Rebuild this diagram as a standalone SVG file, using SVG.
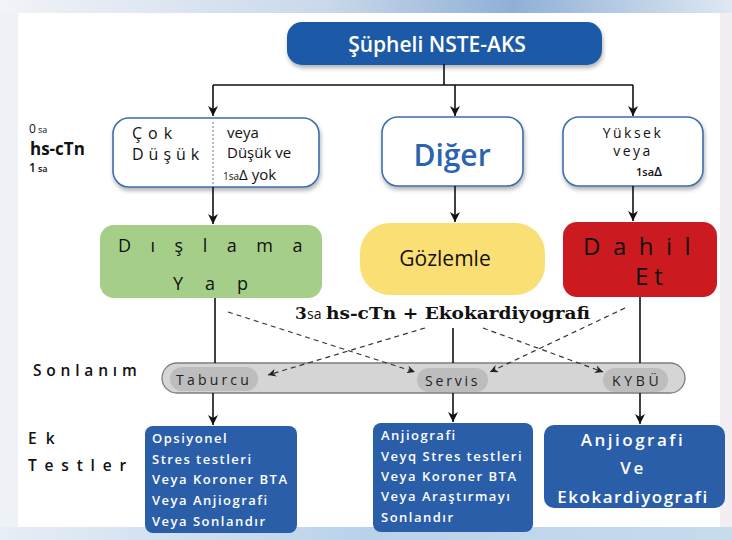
<svg xmlns="http://www.w3.org/2000/svg" width="732" height="540" viewBox="0 0 732 540">
<defs>
<linearGradient id="gTop" x1="0" y1="0" x2="1" y2="0">
<stop offset="0" stop-color="#f1f4f8"/><stop offset="0.45" stop-color="#c9d8ea"/><stop offset="0.7" stop-color="#8fb0d6"/><stop offset="1" stop-color="#dfe8f2"/>
</linearGradient>
<linearGradient id="gBot" x1="0" y1="0" x2="1" y2="0">
<stop offset="0" stop-color="#e6eef6"/><stop offset="0.5" stop-color="#b9d2ea"/><stop offset="1" stop-color="#c7dbee"/>
</linearGradient>
<filter id="sh" x="-10%" y="-10%" width="120%" height="140%">
<feDropShadow dx="1" dy="3" stdDeviation="2" flood-color="#000" flood-opacity="0.3"/>
</filter>
<marker id="ah" viewBox="0 0 10 10" refX="10" refY="5" markerWidth="10" markerHeight="10" markerUnits="userSpaceOnUse" orient="auto">
<path d="M0,0 L10,5 L0,10 L3,5 z" fill="#111"/>
</marker>
<marker id="ad" viewBox="0 0 10 10" refX="10" refY="5" markerWidth="8" markerHeight="8" markerUnits="userSpaceOnUse" orient="auto">
<path d="M0,0 L10,5 L0,10 L3,5 z" fill="#222"/>
</marker>
<style>
.ln{stroke:#111;stroke-width:1.6;fill:none}
.dl{stroke:#333;stroke-width:1.2;fill:none;stroke-dasharray:5 4}
.wb{fill:#fff;stroke:#3d6ead;stroke-width:1.6}
.bb{fill:#2a5ea9}
.sans{font-family:"Open Sans","Noto Sans","DejaVu Sans",sans-serif}
.wt{fill:#fff;font-family:"Open Sans","Noto Sans",sans-serif;font-weight:600;font-size:13px;letter-spacing:1.5px}
.lab{font-family:"Open Sans","Noto Sans",sans-serif;font-size:15.5px;fill:#111;font-weight:600}
.pt{font-family:"Open Sans","Noto Sans",sans-serif;font-size:14px;fill:#222;font-weight:500}
</style>
</defs>

<rect x="0" y="0" width="732" height="540" fill="#eef2f6"/>
<rect x="0" y="0" width="732" height="13" fill="url(#gTop)"/>
<rect x="0" y="527" width="732" height="13" fill="url(#gBot)"/>
<rect x="720" y="13" width="12" height="514" fill="#f3eef1"/>
<rect x="18" y="13" width="702" height="514" fill="#ffffff"/>

<g id="n-top">
<rect x="287" y="22" width="315" height="43" rx="15" fill="#1e5aa7" filter="url(#sh)"/>
<text x="437" y="52" text-anchor="middle" class="sans" font-size="21" font-weight="600" fill="#fff">Şüpheli NSTE-AKS</text>
</g>

<g id="n-cokdusuk">
<rect class="wb" x="113" y="118" width="206" height="69" rx="16" filter="url(#sh)"/>
<line x1="213" y1="122" x2="213" y2="186" stroke="#777" stroke-width="1" stroke-dasharray="2 2"/>
<text x="132" y="139" class="sans" font-size="16" font-weight="500" letter-spacing="6" fill="#111">Çok</text>
<text x="132" y="160" class="sans" font-size="16" font-weight="500" letter-spacing="5" fill="#111">Düşük</text>
<text x="227" y="138" class="sans" font-size="15" fill="#111">veya</text>
<text x="227" y="158" class="sans" font-size="15" fill="#111">Düşük ve</text>
<text x="223" y="180" class="sans" fill="#111"><tspan font-size="10">1sa</tspan><tspan font-size="15">Δ  yok</tspan></text>
</g>

<g id="n-diger">
<rect class="wb" x="382" y="117" width="141" height="69" rx="16" filter="url(#sh)"/>
<text x="452" y="166" text-anchor="middle" class="sans" font-size="30" font-weight="600" fill="#2b64ad">Diğer</text>
</g>

<g id="n-yuksek">
<rect class="wb" x="563" y="117" width="140" height="69" rx="16" filter="url(#sh)"/>
<text x="633" y="138" text-anchor="middle" class="sans" font-size="14" font-weight="500" letter-spacing="2.5" fill="#111">Yüksek</text>
<text x="633" y="156" text-anchor="middle" class="sans" font-size="14" font-weight="500" letter-spacing="2.5" fill="#111">veya</text>
<text x="636" y="176" class="sans" fill="#111" font-weight="600"><tspan font-size="11">1sa</tspan><tspan font-size="13">Δ</tspan></text>
</g>

<g id="n-dislama">
<rect x="100" y="225" width="222" height="73" rx="14" fill="#a5cf88"/>
<text x="118" y="252" class="sans" font-size="18" letter-spacing="19.5" fill="#111">Dışlama</text>
<text x="173" y="290" class="sans" font-size="18" letter-spacing="22" fill="#111">Yap</text>
</g>

<g id="n-gozlemle">
<rect x="360" y="223" width="185" height="72" rx="30" fill="#f9df74"/>
<text x="445" y="266" text-anchor="middle" class="sans" font-size="21" fill="#111">Gözlemle</text>
</g>

<g id="n-dahil">
<rect x="563" y="222" width="154" height="75" rx="14" fill="#cc1b20"/>
<text x="583" y="255" class="sans" font-size="24" font-weight="500" letter-spacing="12.5" fill="#111">Dahil</text>
<text x="635" y="285" class="sans" font-size="24" font-weight="500" letter-spacing="6" fill="#111">Et</text>
</g>

<g id="n-sonlanim">
<rect x="162" y="363" width="523" height="30" rx="15" fill="#d5d5d5" stroke="#7d7d7d" stroke-width="1.3"/>
<rect x="170" y="367" width="88" height="24" rx="12" fill="#bdbdbd"/>
<rect x="417" y="368" width="71" height="24" rx="12" fill="#bdbdbd"/>
<rect x="603" y="368" width="65" height="24" rx="12" fill="#bdbdbd"/>
<text x="176" y="385" class="pt" letter-spacing="3.2">Taburcu</text>
<text x="425" y="386" class="pt" letter-spacing="2.8">Servis</text>
<text x="612" y="386" class="pt" letter-spacing="3.7">KYBÜ</text>
</g>

<g id="n-ek1">
<rect class="bb" x="145" y="426" width="152" height="107" rx="8"/>
<text class="wt" x="152" y="443">Opsiyonel</text>
<text class="wt" x="152" y="464">Stres testleri</text>
<text class="wt" x="152" y="484">Veya Koroner BTA</text>
<text class="wt" x="152" y="505">Veya Anjiografi</text>
<text class="wt" x="152" y="526">Veya Sonlandır</text>
</g>

<g id="n-ek2">
<rect class="bb" x="373" y="423" width="160" height="109" rx="8"/>
<text class="wt" x="381" y="440">Anjiografi</text>
<text class="wt" x="381" y="461">Veyq Stres testleri</text>
<text class="wt" x="381" y="481">Veya Koroner BTA</text>
<text class="wt" x="381" y="501">Veya Araştırmayı</text>
<text class="wt" x="381" y="522">Sonlandır</text>
</g>

<g id="n-ek3">
<rect class="bb" x="544" y="425" width="181" height="83" rx="10"/>
<text x="633" y="446" text-anchor="middle" fill="#fff" class="sans" font-size="17" font-weight="600" letter-spacing="2.5">Anjiografi</text>
<text x="633" y="474" text-anchor="middle" fill="#fff" class="sans" font-size="17" font-weight="600" letter-spacing="2.5">Ve</text>
<text x="633" y="503" text-anchor="middle" fill="#fff" class="sans" font-size="17" font-weight="600" letter-spacing="1.5">Ekokardiyografi</text>
</g>

<g id="labels">
<text x="29" y="133" class="sans" fill="#111"><tspan font-size="12">0</tspan><tspan font-size="9" dx="2">sa</tspan></text>
<text x="30" y="155" class="sans" font-size="17" font-weight="700" fill="#111">hs-cTn</text>
<text x="29" y="172" class="sans" fill="#111" font-weight="600"><tspan font-size="12">1</tspan><tspan font-size="9" dx="2">sa</tspan></text>
<text x="33" y="376" class="lab" letter-spacing="4.8">Sonlanım</text>
<text x="28" y="444" class="lab" letter-spacing="9">Ek</text>
<text x="28" y="471" class="lab" letter-spacing="7.8">Testler</text>
</g>

<g id="t-3sa">
<text x="295" y="319" font-family="'DejaVu Serif','Liberation Serif',serif" font-size="17" font-weight="700" fill="#111">3</text>
<text x="307" y="319" class="sans" font-size="14" fill="#111">sa</text>
<text x="326" y="319" font-family="'DejaVu Serif','Liberation Serif',serif" font-size="16.5" font-weight="700" fill="#111" textLength="264" lengthAdjust="spacingAndGlyphs">hs-cTn + Ekokardiyografi</text>
</g>

<g id="connectors">
<path class="ln" d="M444,64 V85 M213,85 H633"/>
<path class="ln" d="M213,85 V116" marker-end="url(#ah)"/>
<path class="ln" d="M455,85 V116" marker-end="url(#ah)"/>
<path class="ln" d="M633,85 V116" marker-end="url(#ah)"/>
<path class="ln" d="M213,187 V224" marker-end="url(#ah)"/>
<path class="ln" d="M455,186 V222" marker-end="url(#ah)"/>
<path class="ln" d="M633,186 V221" marker-end="url(#ah)"/>
<path class="ln" d="M215,298 V363"/>
<path class="ln" d="M453,328 V363"/>
<path class="ln" d="M640,297 V363"/>
<path class="ln" d="M213,393 V425" marker-end="url(#ah)"/>
<path class="ln" d="M453,393 V422" marker-end="url(#ah)"/>
<path class="ln" d="M640,393 V424" marker-end="url(#ah)"/>
<path class="dl" d="M228,312 L415,372" marker-end="url(#ad)"/>
<path class="dl" d="M425,328 L268,375" marker-end="url(#ad)"/>
<path class="dl" d="M483,328 L603,372" marker-end="url(#ad)"/>
<path class="dl" d="M625,308 L490,372" marker-end="url(#ad)"/>
</g>
</svg>
